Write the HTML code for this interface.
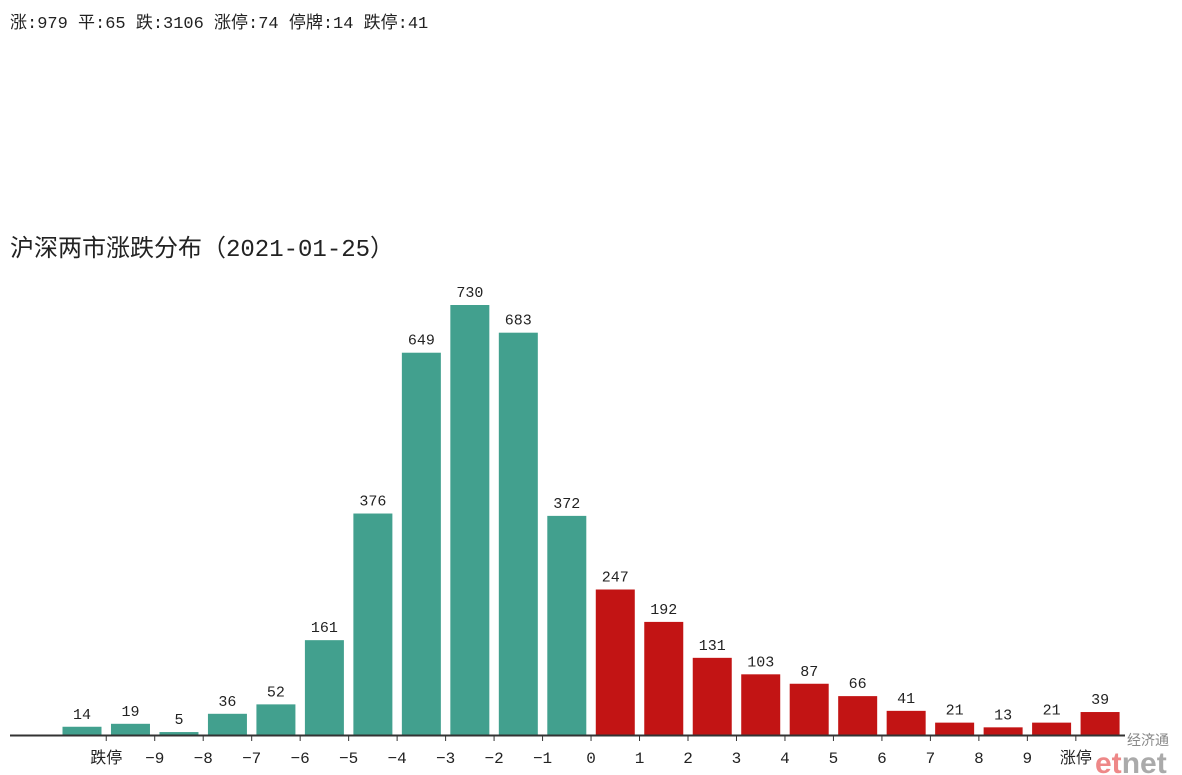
<!DOCTYPE html>
<html><head><meta charset="utf-8"><style>
body{margin:0;background:#fff;width:1182px;height:775px;overflow:hidden;font-family:"Liberation Mono","Noto Sans CJK SC",monospace;color:#222}
#stats{position:absolute;left:10px;top:8px;font-size:17px}
#title{position:absolute;left:10px;top:228px;font-size:24px}
</style></head><body>
<div id="stats">涨:979 平:65 跌:3106 涨停:74 停牌:14 跌停:41</div>
<div id="title">沪深两市涨跌分布（2021-01-25）</div>
<svg id="chart" width="1182" height="775" style="position:absolute;left:0;top:0"></svg>
<script>
const values=[14,19,5,36,52,161,376,649,730,683,372,247,192,131,103,87,66,41,21,13,21,39];
const tickLabels=["跌停","-9","-8","-7","-6","-5","-4","-3","-2","-1","0","1","2","3","4","5","6","7","8","9","涨停"];
const NS="http://www.w3.org/2000/svg";
const svg=document.getElementById('chart');
const base=735,scale=430/730,x0=82,step=48.48,bw=39;
const xs=i=>x0+i*step;
const ys=v=>base-v*scale;
function mk(t,a){const e=document.createElementNS(NS,t);for(const k in a)e.setAttribute(k,a[k]);svg.appendChild(e);return e;}
values.forEach((v,i)=>{
  const r=mk('rect',{x:xs(i)-bw/2,y:ys(v),width:bw,height:base-ys(v),fill:i<11?'#42a08e':'#c21414'});
  
  
  const t=mk('text',{x:xs(i),y:ys(v)-8,'text-anchor':'middle','font-size':15,fill:'#222'});
  t.textContent=v;
  
  
});
const ax=mk('line',{x1:10,x2:1125,y1:base+0.5,y2:base+0.5,stroke:'#333','stroke-width':2});


tickLabels.forEach((l,i)=>{
  const x=xs(i)+step/2;
  const tk=mk('line',{x1:x,x2:x,y1:base,y2:base+6,stroke:'#333','stroke-width':1});
  
  
  const t=mk('text',{x:x,y:base+28,'text-anchor':'middle','font-size':16,fill:'#222'});
  t.textContent=l.replace('-','−');
  
  
});
const w1=mk('text',{x:1127,y:745,'font-size':14,fill:'#888'});w1.textContent='经济通';


const w2=mk('text',{x:1095,y:773,'font-size':30,'font-weight':'bold','font-family':'Liberation Sans,sans-serif',fill:'#e88'});
w2.innerHTML='et<tspan fill="#aaa">net</tspan>';


</script>
</body></html>
